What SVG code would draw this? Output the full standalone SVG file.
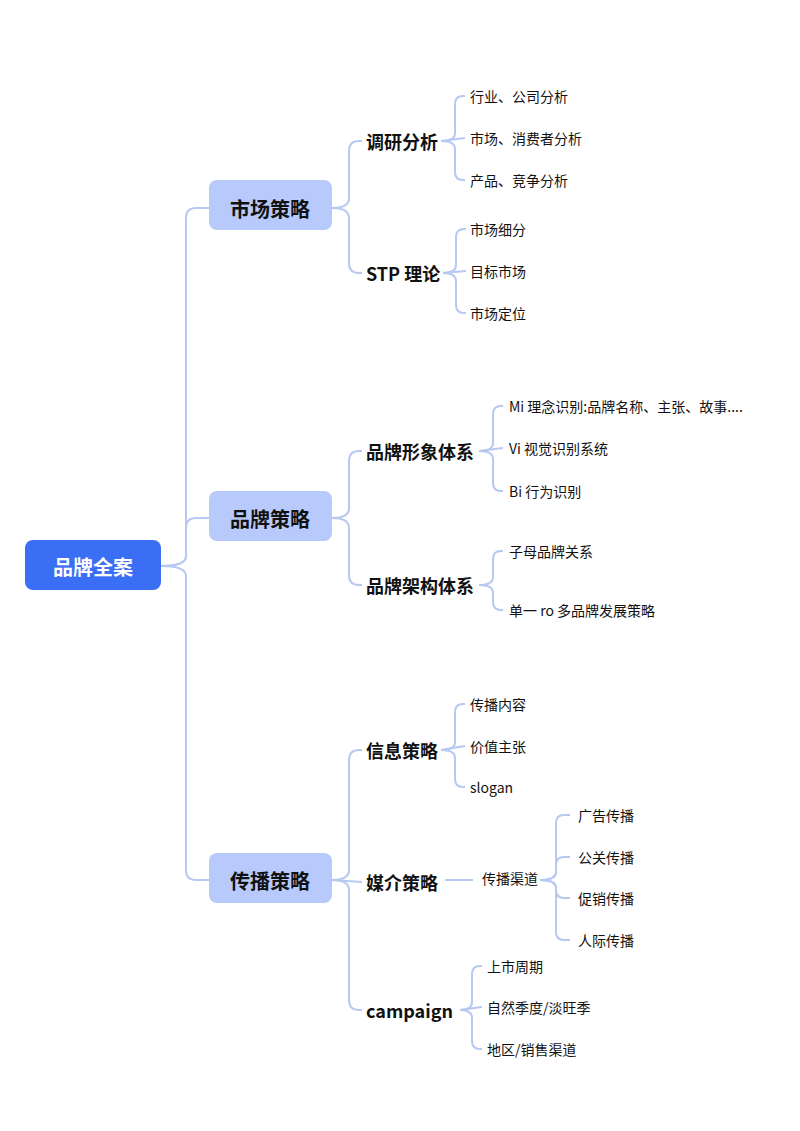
<svg xmlns="http://www.w3.org/2000/svg" width="800" height="1131" viewBox="0 0 800 1131">
<style>
text{font-family:"Noto Sans CJK SC","Noto Sans",sans-serif;dominant-baseline:central;fill:#111}
.c{fill:none;stroke:#b7c8f2;stroke-width:2}
.l1{fill:#b8c9fb}
.t1{font-size:20px;font-weight:bold;text-anchor:middle}
.t2{font-size:18px;font-weight:bold}
.t3{font-size:14px}
</style>
<rect width="800" height="1131" fill="#fff"/>
<g id="connectors" class="c">
<path d="M161 566 Q186 566 186 556 L186 218 Q186 208 196 208 L209 208"/>
<path d="M161 566 Q186 566 186 556 L186 528 Q186 518 196 518 L209 518"/>
<path d="M161 566 Q186 566 186 576 L186 870 Q186 880 196 880 L209 880"/>
<path d="M332 208 Q349 208 349 198 L349 151 Q349 141 359 141 L362 141"/>
<path d="M332 208 Q349 208 349 218 L349 263 Q349 273 359 273 L362 273"/>
<path d="M332 518 Q349 518 349 508 L349 461 Q349 451 359 451 L362 451"/>
<path d="M332 518 Q349 518 349 528 L349 575 Q349 585 359 585 L362 585"/>
<path d="M332 880 Q349 880 349 870 L349 760 Q349 750 359 750 L362 750"/>
<path d="M332 880 L362 882"/>
<path d="M332 880 Q349 880 349 890 L349 1000 Q349 1010 359 1010 L362 1010"/>
<path d="M441 141 Q455 141 455 133 L455 104 Q455 96 463 96 L465 96"/>
<path d="M441 141 L465 138"/>
<path d="M441 141 Q455 141 455 149 L455 172 Q455 180 463 180 L465 180"/>
<path d="M443 273 Q456 273 456 265 L456 237 Q456 229 464 229 L466 229"/>
<path d="M443 273 L466 271"/>
<path d="M443 273 Q456 273 456 281 L456 305 Q456 313 464 313 L466 313"/>
<path d="M479 451 Q493 451 493 443 L493 414 Q493 406 501 406 L503 406"/>
<path d="M479 451 L503 448"/>
<path d="M479 451 Q493 451 493 459 L493 483 Q493 491 501 491 L503 491"/>
<path d="M479 585 Q493 585 493 577 L493 559 Q493 551 501 551 L503 551"/>
<path d="M479 585 Q493 585 493 593 L493 602 Q493 610 501 610 L503 610"/>
<path d="M441 750 Q455 750 455 742 L455 712 Q455 704 463 704 L465 704"/>
<path d="M441 750 L465 746"/>
<path d="M441 750 Q455 750 455 758 L455 779 Q455 787 463 787 L465 787"/>
<path d="M445 880 L473 880"/>
<path d="M540 880 Q556 880 556 872 L556 823 Q556 815 564 815 L570 815"/>
<path d="M540 880 Q556 880 556 872 L556 865 Q556 857 564 857 L570 857"/>
<path d="M540 880 Q556 880 556 888 L556 890 Q556 898 564 898 L570 898"/>
<path d="M540 880 Q556 880 556 888 L556 932 Q556 940 564 940 L570 940"/>
<path d="M460 1010 Q472 1010 472 1002 L472 974 Q472 966 480 966 L482 966"/>
<path d="M460 1010 L482 1007"/>
<path d="M460 1010 Q472 1010 472 1018 L472 1041 Q472 1049 480 1049 L482 1049"/>
</g>
<g id="root"><rect x="25" y="540" width="136" height="50" rx="8" fill="#3a6ef5"/><text x="93" y="566" class="t1" style="fill:#fff">品牌全案</text></g>
<g id="n1"><rect class="l1" x="209" y="180" width="123" height="50" rx="8"/><text x="270" y="208" class="t1">市场策略</text></g>
<g id="n2"><rect class="l1" x="209" y="491" width="123" height="50" rx="8"/><text x="270" y="518" class="t1">品牌策略</text></g>
<g id="n3"><rect class="l1" x="209" y="853" width="123" height="50" rx="8"/><text x="270" y="880" class="t1">传播策略</text></g>
<g id="n11"><text x="366" y="141" class="t2">调研分析</text></g>
<g id="n12"><text x="366" y="273" class="t2">STP 理论</text></g>
<g id="n21"><text x="366" y="451" class="t2">品牌形象体系</text></g>
<g id="n22"><text x="366" y="585" class="t2">品牌架构体系</text></g>
<g id="n31"><text x="366" y="750" class="t2">信息策略</text></g>
<g id="n32"><text x="366" y="882" class="t2">媒介策略</text></g>
<g id="n33"><text x="366" y="1010" class="t2">campaign</text></g>
<g id="n111"><text x="470" y="96" class="t3">行业、公司分析</text></g>
<g id="n112"><text x="470" y="138" class="t3">市场、消费者分析</text></g>
<g id="n113"><text x="470" y="180" class="t3">产品、竞争分析</text></g>
<g id="n121"><text x="470" y="229" class="t3">市场细分</text></g>
<g id="n122"><text x="470" y="271" class="t3">目标市场</text></g>
<g id="n123"><text x="470" y="313" class="t3">市场定位</text></g>
<g id="n211"><text x="509" y="406" class="t3">Mi 理念识别:品牌名称、主张、故事....</text></g>
<g id="n212"><text x="509" y="448" class="t3">Vi 视觉识别系统</text></g>
<g id="n213"><text x="509" y="491" class="t3">Bi 行为识别</text></g>
<g id="n221"><text x="509" y="551" class="t3">子母品牌关系</text></g>
<g id="n222"><text x="509" y="610" class="t3">单一 ro 多品牌发展策略</text></g>
<g id="n311"><text x="470" y="704" class="t3">传播内容</text></g>
<g id="n312"><text x="470" y="746" class="t3">价值主张</text></g>
<g id="n313"><text x="470" y="787" class="t3">slogan</text></g>
<g id="n321"><text x="482" y="878" class="t3">传播渠道</text></g>
<g id="n3211"><text x="578" y="815" class="t3">广告传播</text></g>
<g id="n3212"><text x="578" y="857" class="t3">公关传播</text></g>
<g id="n3213"><text x="578" y="898" class="t3">促销传播</text></g>
<g id="n3214"><text x="578" y="940" class="t3">人际传播</text></g>
<g id="n331"><text x="487" y="966" class="t3">上市周期</text></g>
<g id="n332"><text x="487" y="1007" class="t3">自然季度/淡旺季</text></g>
<g id="n333"><text x="487" y="1049" class="t3">地区/销售渠道</text></g>
</svg>
